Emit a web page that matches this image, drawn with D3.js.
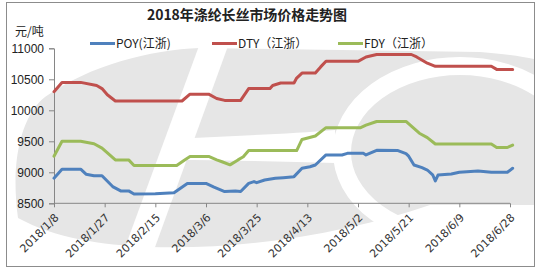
<!DOCTYPE html>
<html><head><meta charset="utf-8">
<script src="https://cdn.jsdelivr.net/npm/d3@7"></script>
<style>body{margin:0;background:#fff}svg{display:block}</style>
</head><body><svg id="c" width="542" height="273"></svg>
<script>
const titleText = "2018年涤纶长丝市场价格走势图";
const unitText = "元/吨";
const seriesNames = ["POY(江浙)", "DTY（江浙）", "FDY（江浙）"];
const seriesColors = ["#4f81bd", "#c0504d", "#9bbb59"];
const yTicks = [8500, 9000, 9500, 10000, 10500, 11000];
const xTickLabels = ["2018/1/8","2018/1/27","2018/2/15","2018/3/6","2018/3/25","2018/4/13","2018/5/2","2018/5/21","2018/6/9","2018/6/28"];

const poyDates = ["1/8","1/11","1/18","1/20","1/23","1/26","1/30","2/2","2/5","2/7","2/15","2/22","2/27","3/6","3/9","3/13","3/17","3/19","3/22","3/24","3/25","3/28","4/1","4/4","4/8","4/11","4/14","4/16","4/20","4/26","4/28","5/4","5/5","5/9","5/17","5/20","5/21","5/23","5/26","5/28","5/30","5/31","6/1","6/6","6/9","6/16","6/21","6/27","6/29"];
const poyValues = [8905,9050,9050,8970,8945,8945,8770,8700,8700,8650,8655,8670,8820,8820,8760,8690,8700,8690,8822,8850,8833,8876,8903,8913,8930,9065,9090,9118,9280,9280,9306,9306,9280,9355,9350,9300,9260,9118,9075,9037,8960,8860,8956,8972,9000,9020,9000,9000,9065];

const dtyDates = ["1/8","1/11","1/18","1/24","1/26","1/28","1/31","2/25","2/28","3/7","3/10","3/13","3/19","3/22","3/30","3/31","4/3","4/8","4/9","4/11","4/16","4/18","4/20","5/2","5/5","5/9","5/22","5/24","5/28","5/31","6/21","6/23","6/29"];
const dtyValues = [10300,10450,10450,10400,10350,10250,10150,10150,10260,10260,10190,10160,10160,10350,10350,10400,10440,10440,10520,10600,10600,10700,10790,10790,10860,10900,10900,10860,10760,10710,10710,10660,10660];

const fdyDates = ["1/8","1/11","1/18","1/23","1/26","1/31","2/5","2/7","2/23","2/26","2/28","3/7","3/10","3/12","3/15","3/18","3/20","3/22","4/9","4/11","4/16","4/20","5/3","5/5","5/9","5/20","5/25","5/28","5/31","6/21","6/23","6/27","6/29"];
const fdyValues = [9260,9500,9500,9460,9390,9200,9200,9110,9110,9200,9255,9255,9200,9170,9120,9200,9250,9350,9350,9530,9585,9720,9720,9760,9820,9820,9630,9560,9456,9456,9400,9400,9440];

function parseMD(s) { const p = s.split("/").map(Number); return new Date(2018, p[0]-1, p[1]); }
function parseFull(s) { const p = s.split("/").map(Number); return new Date(p[0], p[1]-1, p[2]); }

const series = [
  {name: seriesNames[0], color: seriesColors[0], pts: poyDates.map((d,i)=>({d: parseMD(d), v: poyValues[i]}))},
  {name: seriesNames[1], color: seriesColors[1], pts: dtyDates.map((d,i)=>({d: parseMD(d), v: dtyValues[i]}))},
  {name: seriesNames[2], color: seriesColors[2], pts: fdyDates.map((d,i)=>({d: parseMD(d), v: fdyValues[i]}))}
];

const svg = d3.select("#c");

svg.append("defs").append("clipPath").attr("id","frameClip")
  .append("rect").attr("x",7).attr("y",3).attr("width",527).attr("height",263);

svg.append("rect").attr("x",6.5).attr("y",2.5).attr("width",528).attr("height",264)
  .attr("fill","#fff").attr("stroke","#8c8c8c").attr("stroke-width",1);

// watermark
const wm = svg.append("g").attr("clip-path","url(#frameClip)");
wm.append("path")
  .attr("d","M18,218 C10,160 22,115 45,97 C90,65 150,50 200,48 L480,52 C520,55 540,60 545,62 L545,205 L430,205 C350,232 250,250 150,247 C100,245 55,238 18,218 Z")
  .attr("fill","#e6e6e6");
wm.append("path").attr("d","M203,35 L232,35 L146,272 L116,272 Z").attr("fill","#fff");
wm.append("path").attr("d","M172,139 C230,136 290,134 335,130 L335,163 C290,162 230,160 172,160 Z").attr("fill","#fff");
wm.append("ellipse").attr("cx",460).attr("cy",152).attr("rx",118).attr("ry",86)
  .attr("fill","none").attr("stroke","#fff").attr("stroke-width",18);

const x = d3.scaleTime().domain([parseFull(xTickLabels[0]), parseFull(xTickLabels[xTickLabels.length-1])]).range([54, 510]);
const y = d3.scaleLinear().domain([8500, 11000]).range([203.3, 48.3]);

svg.append("text").attr("x",247).attr("y",20).attr("text-anchor","middle")
  .attr("font-family","'Noto Sans CJK SC', sans-serif").attr("font-weight","bold")
  .attr("font-size",14).attr("textLength",200).attr("lengthAdjust","spacing")
  .attr("fill","#222").text(titleText);

svg.append("text").attr("x",15).attr("y",36)
  .attr("font-family","'Noto Sans CJK SC', sans-serif").attr("font-size",12)
  .attr("fill","#222").text(unitText);

const yAxis = d3.axisLeft(y).tickValues(yTicks).tickSize(5).tickPadding(5).tickFormat(d3.format("d"));
const gy = svg.append("g").attr("transform","translate(54,0)").call(yAxis);
gy.selectAll("path,line").attr("stroke","#868686");
gy.selectAll("text").attr("font-family","'Liberation Sans', sans-serif").attr("font-size",12).attr("fill","#222");

const xAxis = d3.axisBottom(x).tickValues(xTickLabels.map(parseFull)).tickSize(4).tickFormat((d,i)=>xTickLabels[i]);
const gx = svg.append("g").attr("transform","translate(0,203.3)").call(xAxis);
gx.select(".domain").attr("d","M54,0H510");
gx.selectAll("path,line").attr("stroke","#868686");
gx.selectAll("text").attr("font-family","'DejaVu Sans', sans-serif").attr("font-size",11).attr("fill","#333")
  .attr("text-anchor","end").attr("dy",null).attr("y",0)
  .attr("transform","translate(5,15) rotate(-45)");

const line = d3.line().x(p=>x(p.d)).y(p=>y(p.v));
series.forEach(s=>{
  svg.append("path").datum(s.pts).attr("d",line).attr("fill","none")
    .attr("stroke",s.color).attr("stroke-width",3).attr("stroke-linejoin","round").attr("stroke-linecap","round");
});

const legendX = [90, 212, 338];
series.forEach((s,i)=>{
  const g = svg.append("g").attr("transform",`translate(${legendX[i]},43.5)`);
  g.append("line").attr("x1",0).attr("x2",25).attr("y1",0).attr("y2",0).attr("stroke",s.color).attr("stroke-width",3);
  g.append("text").attr("x",26).attr("y",4.5).attr("font-family","'Noto Sans CJK SC', sans-serif")
    .attr("font-size",12).attr("fill","#222").text(s.name);
});
</script></body></html>
